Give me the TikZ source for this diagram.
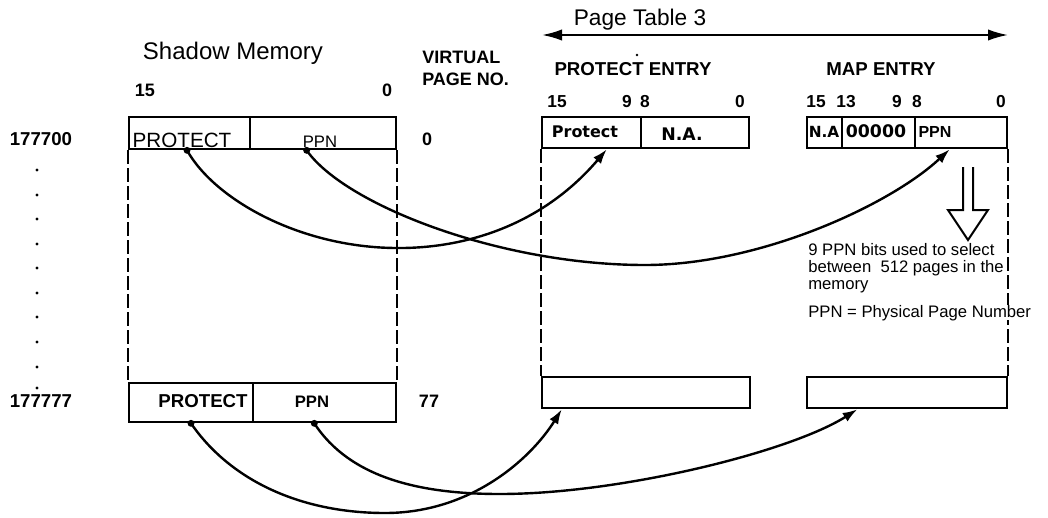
\documentclass[tikz,border=0pt]{standalone}
\usepackage{fontspec}
\setmainfont{Liberation Sans}
\newfontfamily\dvs{DejaVu Sans}
\usetikzlibrary{arrows.meta,calc}
\begin{document}
\begin{tikzpicture}[x=0.75pt,y=-0.75pt,
  cell/.style={draw, line width=2pt, inner sep=0pt},
  dashline/.style={line width=1.5pt, dash pattern=on 10pt off 3.5pt},
  conn/.style={line width=1.8pt, -{Latex[length=11pt,width=7.5pt]}},
  lbl/.style={inner sep=0pt, anchor=base, font=\fontsize{13.5}{15}\selectfont\bfseries},
  bit/.style={inner sep=0pt, anchor=base, font=\fontsize{13}{14}\selectfont\bfseries},
  note/.style={inner sep=0pt, anchor=base west, font=\fontsize{12.5}{14}\selectfont}]
\fill[white] (0,0) rectangle (1048,517);
\useasboundingbox (0,0) rectangle (1048,517);

% titles
\node[inner sep=0pt, anchor=base, font=\fontsize{18}{20}\selectfont] (tsm) at (233,60) {Shadow Memory};
\node[inner sep=0pt, anchor=base, font=\fontsize{17}{19}\selectfont] (tpt) at (640,26) {Page Table 3};
\coordinate (ptl) at (542,35);
\coordinate (ptr) at (1008,35);
\draw[line width=1.5pt, {Latex[length=15pt,width=8.5pt]}-{Latex[length=15pt,width=8.5pt]}] (ptl) -- (ptr);

\node[lbl, anchor=base west] (tvir) at (422,64) {VIRTUAL};
\node[lbl, anchor=base west] (tpage) at (422,85) {PAGE NO.};
\node[lbl, font=\fontsize{14}{16}\selectfont\bfseries] (tpe) at (633,75) {PROTECT ENTRY};
\fill (637,55) circle[radius=1.1pt];
\node[lbl, font=\fontsize{14}{16}\selectfont\bfseries] (tme) at (881,75) {MAP ENTRY};

% bit numbers
\node[bit, font=\fontsize{13.5}{15}\selectfont\bfseries] (b1) at (145,96) {15};
\node[bit, font=\fontsize{13.5}{15}\selectfont\bfseries] (b2) at (387,96) {0};
\node[bit] (b3) at (557,107) {15};
\node[bit] (b4) at (627,107) {9};
\node[bit] (b5) at (645,107) {8};
\node[bit] (b6) at (740,107) {0};
\node[bit] (b7) at (816,107) {15};
\node[bit] (b8) at (846,107) {13};
\node[bit] (b9) at (897,107) {9};
\node[bit] (b10) at (917,107) {8};
\node[bit] (b11) at (1001,107) {0};

% addresses
\node[lbl, font=\fontsize{14}{16}\selectfont\bfseries] (a1) at (41,145.5) {177700};
\node[lbl, font=\fontsize{14}{16}\selectfont\bfseries] (a2) at (41,407.5) {177777};
\foreach \yy in {170,195,219,244,268,293,317,342,367,388}
  \fill (37,\yy) circle[radius=1.3pt];
\node[lbl] (v1) at (427,145) {0};
\node[lbl] (v2) at (429,407) {77};

% shadow memory cells
\node[cell, minimum width=90.75pt, minimum height=24pt] (smTopProt) at (189.5,133) {};
\node[cell, minimum width=109.5pt, minimum height=24pt] (smTopPPN) at (323,133) {};
\node[cell, minimum width=93pt, minimum height=29.25pt] (smBotProt) at (191,402.5) {};
\node[cell, minimum width=107.25pt, minimum height=29.25pt] (smBotPPN) at (324.5,402.5) {};
\node[inner sep=0pt, anchor=base, font=\fontsize{15.5}{17}\selectfont] (tp1) at (182,147.5) {PROTECT};
\node[inner sep=0pt, anchor=base, font=\fontsize{12.5}{14}\selectfont] (tp2) at (320,147.5) {PPN};
\node[lbl, font=\fontsize{14}{16}\selectfont\bfseries] (tp3) at (203,407) {PROTECT};
\node[lbl, font=\fontsize{12.5}{14}\selectfont\bfseries] (tp4) at (312,407) {PPN};
\draw[dashline] (smTopProt.south west) -- (smBotProt.north west);
\draw[dashline] (smTopPPN.south east) -- (smBotPPN.north east);

% page table cells
\node[cell, minimum width=74.25pt, minimum height=23.25pt] (peProt) at (591.5,132.5) {};
\node[cell, minimum width=81pt, minimum height=23.25pt] (peNA) at (695,132.5) {};
\node[cell, minimum width=26.25pt, minimum height=23.25pt] (meNA) at (824.5,132.5) {};
\node[cell, minimum width=54.75pt, minimum height=23.25pt] (me0) at (878.5,132.5) {};
\node[cell, minimum width=69pt, minimum height=23.25pt] (mePPN) at (961,132.5) {};
\node[cell, minimum width=156pt, minimum height=23.25pt] (peBot) at (646,392.5) {};
\node[cell, minimum width=150pt, minimum height=23.25pt] (meBot) at (907,392.5) {};
\node[inner sep=0pt, anchor=base, font=\dvs\fontsize{12}{14}\selectfont\bfseries] (f1) at (585,137) {Protect};
\node[inner sep=0pt, anchor=base, font=\dvs\fontsize{13}{14}\selectfont\bfseries] (f2) at (682,140) {N.A.};
\node[inner sep=0pt, anchor=base, font=\dvs\fontsize{11.5}{14}\selectfont\bfseries] (f3) at (824,137) {N.A};
\node[inner sep=0pt, anchor=base, font=\dvs\fontsize{13}{14}\selectfont\bfseries] (f4) at (876,137) {00000};
\node[inner sep=0pt, anchor=base, font=\fontsize{12}{14}\selectfont\bfseries] (f5) at (935,137) {PPN};
\draw[dashline] (peProt.south west) -- (peBot.north west);
\draw[dashline] (mePPN.south east) -- (meBot.north east);

% hollow arrow
\draw[line width=1.5pt] (963,167) -- (963,210) -- (948,210) -- (968,240) -- (988,210) -- (973,210) -- (973,167);

% note
\node[note] (n1) at (808,255) {9 PPN bits used to select};
\node[note] (n2) at (808,272) {between\ \ 512 pages in the};
\node[note] (n3) at (808,289) {memory};
\node[note, fill=white] (n4) at (808,317) {PPN = Physical Page Number};

% connector ends
\coordinate (s1) at ($(smTopProt.south west)!0.48!(smTopProt.south east)$);
\coordinate (s2) at ($(smTopPPN.south west)!0.39!(smTopPPN.south east)$);
\coordinate (s3) at (smBotProt.south);
\coordinate (s4) at ($(smBotPPN.south west)!0.43!(smBotPPN.south east)$);
\coordinate (e1) at ($(peProt.south west)!0.65!(peProt.south east)$);
\coordinate (e2) at ($(mePPN.south west)!0.38!(mePPN.south east)$);
\coordinate (e3) at ($(peBot.south west)!0.10!(peBot.south east)$);
\coordinate (e4) at ($(meBot.south west)!0.255!(meBot.south east)$);

\foreach \p in {s1,s2,s3,s4} \fill (\p) circle[radius=2.6pt];

\draw[conn] (s1) .. controls (215,200) and (300,247) .. (395,248)
                 .. controls (470,249) and (545,222) .. (e1);
\draw[conn] (s2) .. controls (345,205) and (500,265) .. (645,265)
                 .. controls (760,265) and (890,205) .. (e2);
\draw[conn] (s3) .. controls (230,480) and (300,513) .. (385,513)
                 .. controls (470,513) and (530,460) .. (e3);
\draw[conn] (s4) .. controls (350,478) and (420,494) .. (500,494)
                 .. controls (620,494) and (790,452) .. (e4);
\end{tikzpicture}
\end{document}
